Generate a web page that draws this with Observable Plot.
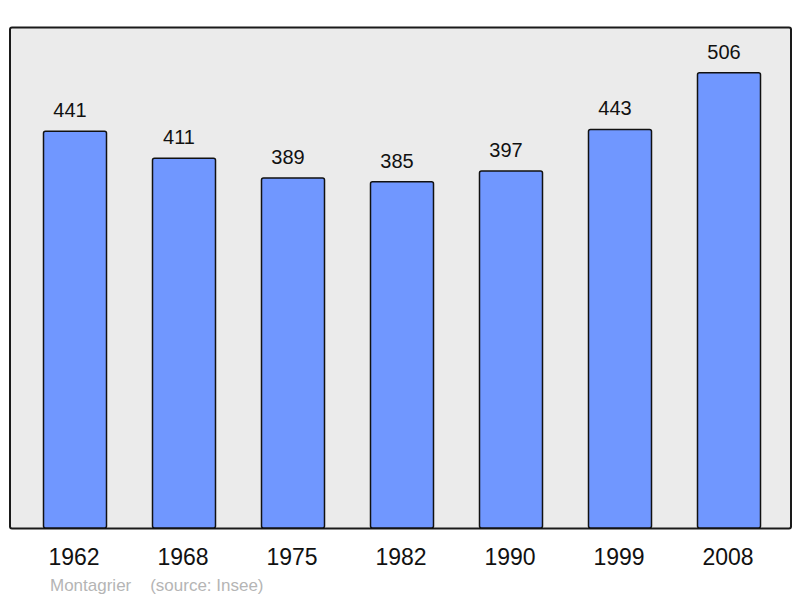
<!DOCTYPE html>
<html>
<head>
<meta charset="utf-8">
<script src="https://cdn.jsdelivr.net/npm/d3@7"></script>
<script src="https://cdn.jsdelivr.net/npm/@observablehq/plot@0.6"></script>
<style>
  body { margin: 0; background: #fff; font-family: "Liberation Sans", Arial, sans-serif; }
  #caption { margin-left: 50px; margin-top: 1px; font-size: 17px; line-height: 18px; color: #b5b5b5; white-space: pre; }
</style>
</head>
<body>
<div id="chart"></div>
<div id="caption"></div>
<script>
const years = ["1962", "1968", "1975", "1982", "1990", "1999", "2008"];
const population = [441, 411, 389, 385, 397, 443, 506];
const place = "Montagrier";
const source = "(source: Insee)";

const data = years.map((y, i) => ({year: y, value: population[i]}));

const chart = Plot.plot({
  width: 800,
  height: 576,
  marginLeft: 9.5,
  marginRight: 9.5,
  marginTop: 27,
  marginBottom: 48,
  style: {fontFamily: "'Liberation Sans', Arial, sans-serif", background: "#fff"},
  x: {domain: years, paddingInner: 0.425, paddingOuter: 0.283},
  y: {domain: [0, 557], axis: null},
  marks: [
    Plot.frame({fill: "#ebebeb", stroke: "#1a1a1a", strokeWidth: 2, rx: 2}),
    Plot.barY(data, {x: "year", y: "value", fill: "#7097ff", stroke: "#111", strokeWidth: 1.5, rx: 2, dx: 1.5}),
    Plot.text(data, {x: "year", y: "value", text: d => String(d.value), fontSize: 20, fill: "#111", dx: -4, dy: -21}),
    Plot.axisX({tickSize: 0, tickPadding: 20, fontSize: 23, color: "#111", label: null})
  ]
});
document.getElementById("chart").appendChild(chart);
document.getElementById("caption").textContent = place + "    " + source;
</script>
</body>
</html>
